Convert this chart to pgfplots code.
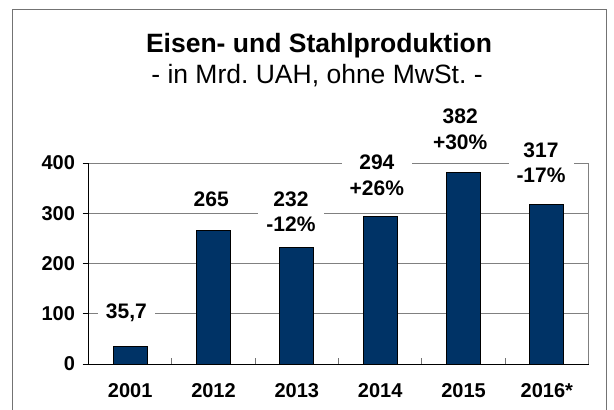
\documentclass[border=0pt]{standalone}
\usepackage{pgfplots}
\pgfplotsset{compat=1.18}
\usepackage{fontspec}
\setmainfont{Liberation Sans}
\definecolor{barblue}{RGB}{0,51,102}
\frenchspacing
\begin{document}
\begin{tikzpicture}[x=1bp,y=1bp]
\path[use as bounding box] (0,0) rectangle (614,409);
\draw[black!55, line width=1bp] (12,-20) -- (12,399) -- (606,399) -- (606,-20);
\node[font=\bfseries\fontsize{26.5bp}{30bp}\selectfont, anchor=base] at (319,357) {Eisen- und Stahlproduktion};
\node[font=\fontsize{26.5bp}{30bp}\selectfont, anchor=base] at (317,326) {- in Mrd. UAH, ohne MwSt. -};
\begin{axis}[
  at={(88.5bp,45bp)}, anchor=south west, scale only axis,
  width=500bp, height=201bp,
  xmin=-0.5, xmax=5.5, ymin=0, ymax=400, clip=false,
  axis line style={draw=none},
  ytick={0,100,200,300,400},
  xtick={0,1,2,3,4,5},
  xticklabels={2001,2012,2013,2014,2015,2016*},
  major x tick style={draw=none},
  minor xtick={0.5,1.5,2.5,3.5,4.5},
  minor x tick style={black!55, line width=1bp},
  minor tick length=6bp,
  y tick style={black, line width=1bp},
  ytick align=outside, major tick length=6bp,
  xtick pos=bottom, ytick pos=left,
  ymajorgrids, major grid style={black!50, line width=1bp},
  /pgf/number format/assume math mode=true,
  ticklabel style={font=\bfseries\fontsize{20bp}{22bp}\selectfont},
  yticklabel style={xshift=-4bp},
  xticklabel style={yshift=-16bp},
]
\addplot[ybar, bar width=34bp, fill=barblue, draw=black, line width=1bp]
  coordinates {(0,35.7) (1,265) (2,232) (3,294) (4,382) (5,317)};
\draw[black, line width=1bp] (axis cs:-0.5,400) -- (axis cs:-0.5,0) -- (axis cs:5.5,0);
\draw[black!50, line width=1bp] (axis cs:5.5,0) -- (axis cs:5.5,400);
\tikzset{lab/.style={fill=white, inner xsep=8bp, inner ysep=1bp, align=center,
  font=\bfseries\fontsize{21bp}{25.5bp}\selectfont}}
\node[lab] at (axis cs:-0.045,101.5) {35,7};
\node[lab] at (axis cs:0.973,328) {265};
\node[lab] at (axis cs:1.93,302.5) {232\\-12\%};
\node[lab] at (axis cs:2.96,376) {294\\+26\%};
\node[lab] at (axis cs:3.96,466.7) {382\\+30\%};
\node[lab] at (axis cs:4.93,401) {317\\-17\%};
\end{axis}
\end{tikzpicture}
\end{document}
